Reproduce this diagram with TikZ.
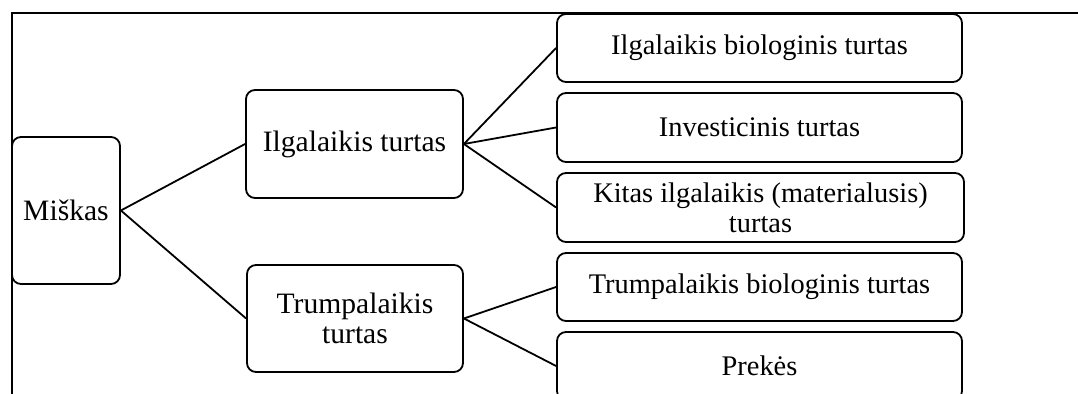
\documentclass[tikz,border=0pt]{standalone}
\usepackage{fontspec}
\setmainfont{Liberation Serif}
\begin{document}
\begin{tikzpicture}[x=0.5pt,y=-0.5pt,
  box/.style={draw,line width=0.9pt,rounded corners=4.5pt,align=center,inner sep=0pt,
    font=\fontsize{14.2}{15}\selectfont},
  bigbox/.style={box,font=\fontsize{14.8}{14.8}\selectfont},
  link/.style={line width=0.9pt}]
\useasboundingbox (0,0) rectangle (1078,394);
\draw[line width=0.9pt] (12,394) -- (12,13) -- (1078,13);
\node[bigbox,minimum width=54pt,minimum height=73.5pt] (m) at (66,210.5) {Miškas};
\node[bigbox,minimum width=108.5pt,minimum height=54pt] (il) at (354.5,144) {Ilgalaikis turtas};
\node[bigbox,minimum width=108pt,minimum height=53.5pt] (tr) at (355,318.5) {Trumpalaikis\\turtas};
\node[box,minimum width=202.5pt,minimum height=34pt] (b1) at (759.5,48) {Ilgalaikis biologinis turtas};
\node[box,minimum width=202.5pt,minimum height=34.5pt] (b2) at (759.5,127.5) {Investicinis turtas};
\node[box,minimum width=203.5pt,minimum height=34.5pt] (b3) at (760.5,207.5) {Kitas ilgalaikis (materialusis)\\turtas};
\node[box,minimum width=202.5pt,minimum height=34pt] (b4) at (759.5,287) {Trumpalaikis biologinis turtas};
\node[box,minimum width=202.5pt,minimum height=34pt] (b5) at (759.5,366) {Prekės};
\draw[link] (m.east) -- (il.west);
\draw[link] (m.east) -- (tr.west);
\draw[link] (il.east) -- (b1.west);
\draw[link] (il.east) -- (b2.west);
\draw[link] (il.east) -- (b3.west);
\draw[link] (tr.east) -- (b4.west);
\draw[link] (tr.east) -- (b5.west);
\end{tikzpicture}
\end{document}
